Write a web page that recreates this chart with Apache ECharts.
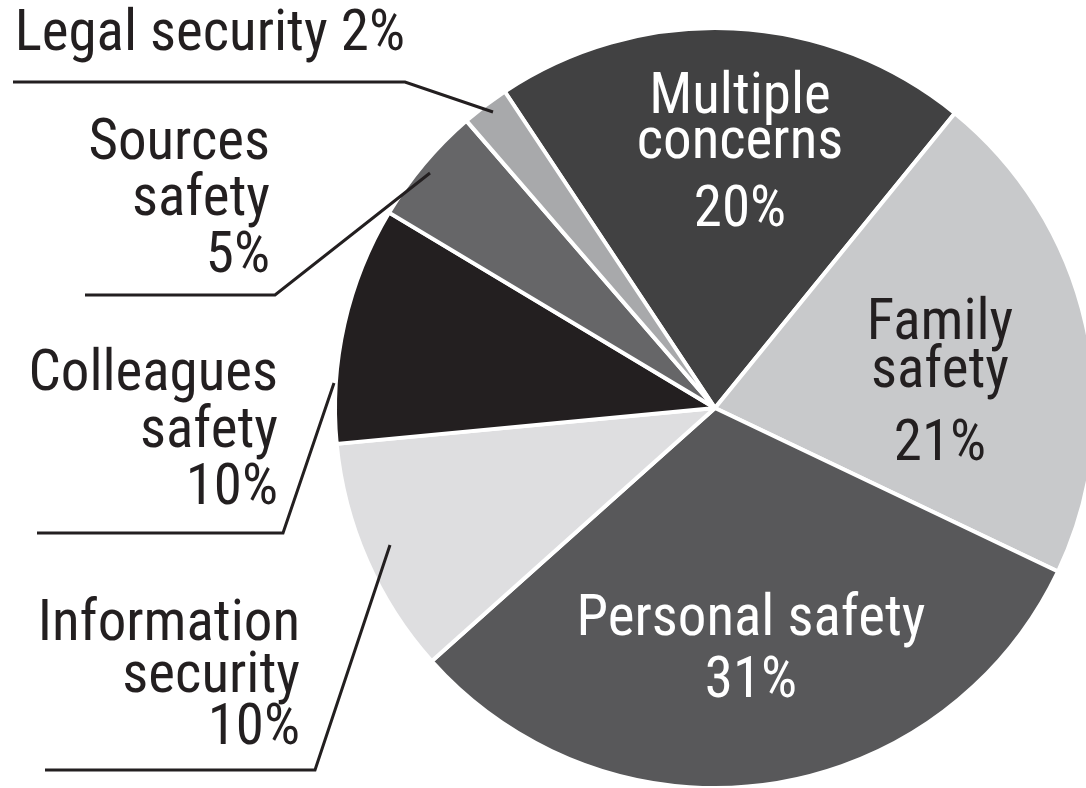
<!DOCTYPE html>
<html>
<head>
<meta charset="utf-8">
<script src="https://cdn.jsdelivr.net/npm/echarts@6/dist/echarts.min.js"></script>
<style>
html,body{margin:0;padding:0;background:#fff;}
#chart{width:1086px;height:788px;}
</style>
</head>
<body>
<div id="chart"></div>
<script>
// ---- data ----
const categories = ['Multiple concerns', 'Family safety', 'Personal safety', 'Information security', 'Colleagues safety', 'Sources safety', 'Legal security'];
const values = [20, 21, 31, 10, 10, 5, 2];
const labelTexts = [['Multiple', 'concerns'], ['Family', 'safety'], ['Personal safety'], ['Information', 'security'], ['Colleagues', 'safety'], ['Sources', 'safety'], ['Legal security']];

// ---- styling / layout ----
const sliceColors = ['#414142', '#c8c9cb', '#58585a', '#dedee0', '#231f20', '#666668', '#a8a9ab'];
const FONT = "Roboto, 'DejaVu Sans Condensed', sans-serif";
const STRETCH = 'condensed'; // goes into the canvas font shorthand
const FS = 57;
const DARK = '#231f20';
const PIE_CENTER = [715, 408];
const PIE_RADIUS = 380;
const START_ANGLE = 123.6;

// label placement (label geometry only)
const labelPlacement = [
  { inside: true, x: 740, y: 167, color: '#fff', nLH: 45, pLH: 91 },
  { inside: true, x: 940, y: 398, color: DARK, nLH: 48, pLH: 98 },
  { inside: true, x: 751, y: 652, color: '#fff', nLH: 62, pLH: 62 },
  { x: 300, y: 678, lh: 52, line: [[390, 545], [315, 770], [45, 770]] },
  { x: 278, y: 433, lh: 57, line: [[334, 383], [283, 533], [37, 533]] },
  { x: 270, y: 201, lh: 56.5, line: [[430, 173], [275, 295], [85, 295]] },
  { x: 405, y: 36, lh: 57, oneLine: true, line: [[493, 112], [405, 82], [13, 82]] }
];

const sliceData = categories.map((name, i) => ({ name, value: values[i], itemStyle: { color: sliceColors[i] } }));

const labelData = categories.map((name, i) => {
  const p = labelPlacement[i];
  const item = { name, value: values[i] };
  if (p.inside) {
    item.label = {
      position: 'inside',
      formatter: '{n|' + labelTexts[i].join('\n') + '}\n{p|' + values[i] + '%}',
      rich: {
        n: { fontFamily: FONT, fontStyle: STRETCH, fontSize: FS, color: p.color, lineHeight: p.nLH, align: 'center' },
        p: { fontFamily: FONT, fontStyle: STRETCH, fontSize: FS, color: p.color, lineHeight: p.pLH, align: 'center' }
      }
    };
    item.labelLine = { show: false };
  } else {
    const txt = p.oneLine ? labelTexts[i][0] + ' ' + values[i] + '%' : labelTexts[i].join('\n') + '\n' + values[i] + '%';
    item.label = {
      position: 'outside',
      formatter: txt,
      fontFamily: FONT, fontStyle: STRETCH, fontSize: FS, color: DARK, lineHeight: p.lh, align: 'right'
    };
    item.labelLine = { show: true, lineStyle: { color: DARK, width: 3 } };
  }
  return item;
});

const chart = echarts.init(document.getElementById('chart'), null, { renderer: 'canvas' });
chart.setOption({
  backgroundColor: '#fff',
  animation: false,
  series: [{
    type: 'pie',
    z: 1,
    silent: true,
    center: PIE_CENTER,
    radius: PIE_RADIUS,
    startAngle: START_ANGLE,
    clockwise: true,
    label: { show: false },
    labelLine: { show: false },
    emphasis: { disabled: true },
    itemStyle: { borderColor: '#fff', borderWidth: 4 },
    data: sliceData
  }, {
    // transparent overlay carrying the labels so leader lines sit on top of the slices
    type: 'pie',
    z: 5,
    silent: true,
    center: PIE_CENTER,
    radius: PIE_RADIUS,
    startAngle: START_ANGLE,
    clockwise: true,
    avoidLabelOverlap: false,
    emphasis: { disabled: true },
    itemStyle: { color: 'rgba(0,0,0,0)', borderWidth: 0 },
    data: labelData,
    labelLayout: function (params) {
      const p = labelPlacement[params.dataIndex];
      const out = { x: p.x, y: p.y, align: p.inside ? 'center' : 'right', verticalAlign: 'middle' };
      if (p.line) out.labelLinePoints = p.line;
      return out;
    }
  }]
});
</script>
</body>
</html>
